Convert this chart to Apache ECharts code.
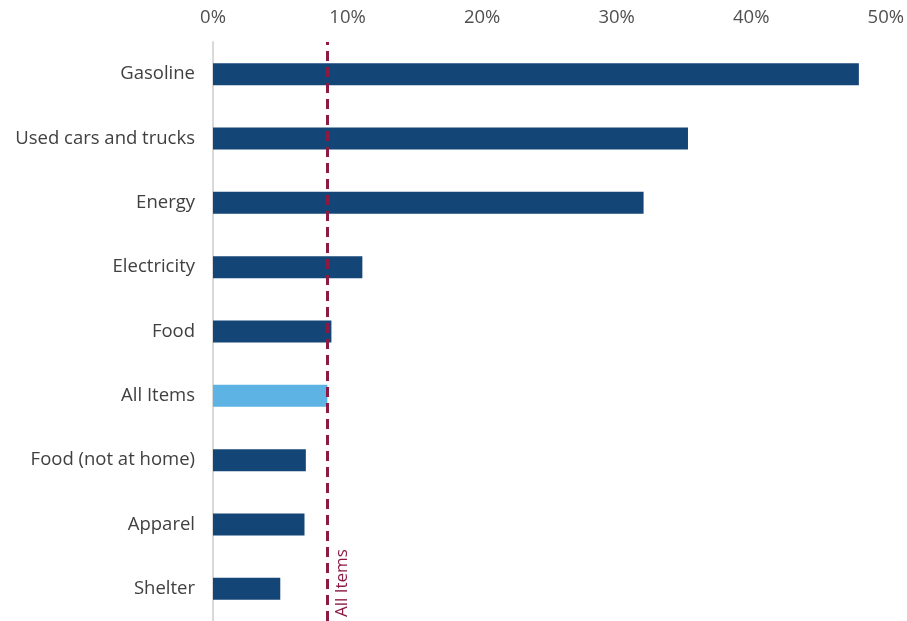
<!DOCTYPE html>
<html><head><meta charset="utf-8">
<script src="https://cdn.jsdelivr.net/npm/echarts@6/dist/echarts.min.js"></script>
<style>html,body{margin:0;padding:0;background:#fff}#c{width:907px;height:621px}</style>
</head><body><div id="c"></div>
<script>
const categories = ["Gasoline","Used cars and trucks","Energy","Electricity","Food","All Items","Food (not at home)","Apparel","Shelter"];
const values = [48.0,35.3,32.0,11.1,8.8,8.5,6.9,6.8,5.0];
const highlight = "All Items";
const allItemsValue = 8.5;
const xTicks = [0,10,20,30,40,50];

// bottom-to-top order for a non-inverted category axis
const cats = categories.slice().reverse();
const vals = values.slice().reverse();

const chart = echarts.init(document.getElementById('c'));
chart.setOption({
  animation:false,
  grid:{left:213,right:21,top:42,bottom:0,containLabel:false},
  xAxis:{type:'value',position:'top',min:xTicks[0],max:xTicks[xTicks.length-1],interval:10,
    axisLine:{show:false},axisTick:{show:false},splitLine:{show:false},
    axisLabel:{formatter:'{value}%',color:'#505050',fontSize:18.5,fontFamily:'Open Sans',margin:15}},
  yAxis:{type:'category',data:cats,
    axisLine:{show:true,lineStyle:{color:'#d9d9d9',width:2}},axisTick:{show:false},
    axisLabel:{color:'#404040',fontSize:18.5,fontFamily:'Open Sans',margin:18}},
  series:[{type:'bar',barWidth:22,
    data:vals.map((v,i)=>({value:v,itemStyle:{color:cats[i]===highlight?'#5db3e4':'#144577'}})),
    markLine:{symbol:'none',silent:true,
      lineStyle:{color:'#8b1a45',type:[10,6],width:3},
      label:{show:true,formatter:'All Items',position:'insideStartBottom',distance:[4,6],color:'#8b1a45',fontSize:17,fontFamily:'Open Sans'},
      data:[{xAxis:allItemsValue}]}
  }]
});
</script></body></html>
